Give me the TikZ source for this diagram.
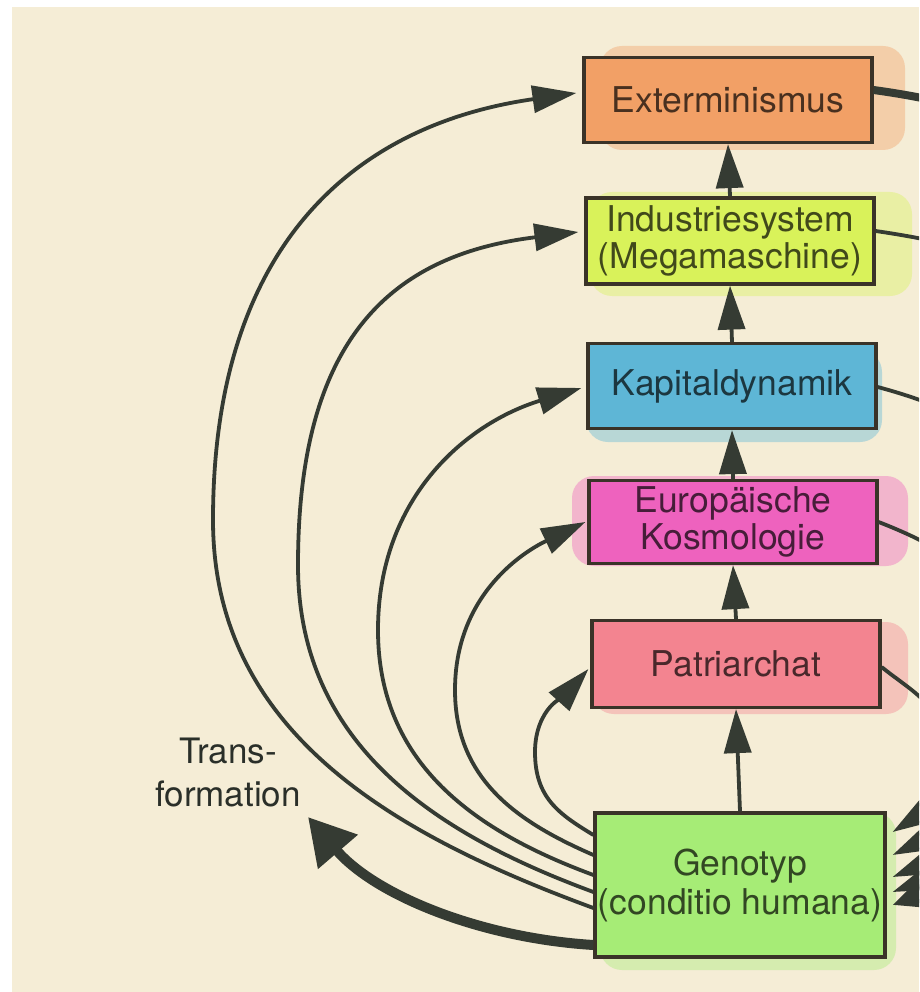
\documentclass[tikz,border=0pt]{standalone}
\usepackage{fontspec}
\setmainfont{TeX Gyre Heros}
\usetikzlibrary{arrows.meta,calc}
\definecolor{paper}{HTML}{F5EDD6}
\definecolor{ink}{HTML}{353B33}
\definecolor{cExt}{HTML}{F2A066}
\definecolor{cInd}{HTML}{D9F25A}
\definecolor{cKap}{HTML}{5EB6D6}
\definecolor{cEur}{HTML}{EE62BE}
\definecolor{cPat}{HTML}{F38490}
\definecolor{cGen}{HTML}{A6EC76}
\definecolor{boxline}{HTML}{3A3328}
\begin{document}
\begin{tikzpicture}[x=1pt,y=-1pt,
  box/.style={draw=boxline, line width=3.2pt, fill=#1, text=#1!30!black,
    minimum width=288pt, minimum height=85pt, align=center, inner sep=0pt,
    font=\fontsize{35.5}{37}\selectfont},
  conn/.style={draw=ink, line width=3.8pt, -{Triangle[length=44pt,width=27pt]}},
  thickconn/.style={draw=ink, line width=10pt, -{Triangle[length=46pt,width=50pt]}},
  blob/.style={fill=#1, fill opacity=0.4, draw=none, rounded corners=22pt}
]
\useasboundingbox (0,0) rectangle (919,992);
\clip (0,0) rectangle (919,992);
\fill[white] (0,0) rectangle (919,992);
\fill[paper] (12,7) rectangle (919,992);

% highlighter smears
\path[blob=cExt] (600,46) rectangle (905,150);
\path[blob=cInd] (590,192) rectangle (912,296);
\path[blob=cKap] (586,350) rectangle (882,442);
\path[blob=cEur] (572,476) rectangle (908,566);
\path[blob=cPat] (592,622) rectangle (908,714);
\path[blob=cGen] (600,812) rectangle (896,970);

% boxes
\node[box=cExt] (ext) at (728,100) {Exterminismus};
\node[box=cInd, minimum height=86pt] (ind) at (730,241) {Industriesystem\\(Megamaschine)};
\node[box=cKap] (kap) at (732,386) {Kapitaldynamik};
\node[box=cEur, minimum height=83pt] (eur) at (733,522) {Europäische\\Kosmologie};
\node[box=cPat, minimum height=87pt] (pat) at (736,664) {Patriarchat};
\node[box=cGen, minimum width=290pt, minimum height=144pt,
      font=\fontsize{35.5}{39}\selectfont] (gen) at (740,885) {Genotyp\\(conditio humana)};
\node[align=center, text=ink!80!black, font=\fontsize{35}{43}\selectfont] (trans) at (228,772) {Trans-\\formation};

% vertical chain
\draw[conn] (ind.north) -- (ext.south);
\draw[conn] (kap.north) -- (ind.south);
\draw[conn] (eur.north) -- (kap.south);
\draw[conn] (pat.north) -- (eur.south);
\draw[conn] (gen.north) -- (pat.south);

% ports on the left of Genotyp
\coordinate (s1) at ($(gen.west)+(0,-50)$);
\coordinate (s2) at ($(gen.west)+(0,-30)$);
\coordinate (s3) at ($(gen.west)+(0,-10)$);
\coordinate (s4) at ($(gen.west)+(0,7)$);
\coordinate (s5) at ($(gen.west)+(0,23)$);
\coordinate (s6) at ($(gen.west)+(0,60)$);
% targets on the left of the boxes
\coordinate (t1) at ($(pat.west)+(-2,5)$);
\coordinate (t2) at ($(eur.west)+(-2,0)$);
\coordinate (t3) at ($(kap.west)+(-5,2)$);
\coordinate (t4) at ($(ind.west)+(-6,-9)$);
\coordinate (t5) at ($(ext.west)+(-6,-7)$);
\coordinate (tr) at (308,817);

% left arcs
\draw[conn] (s1) .. controls (559,814) and (535,798) .. (535,752)
                 .. controls (535,708) and (566,694) .. (t1);
\draw[conn] (s2) .. controls (520,823) and (455,781) .. (455,690)
                 .. controls (455,598) and (519,554) .. (t2);
\draw[conn] (s3) .. controls (477,832) and (378,765) .. (378,630)
                 .. controls (378,497) and (467,423) .. (t3);
\draw[conn] (s4) .. controls (436,834) and (298,745) .. (298,565)
                 .. controls (298,340) and (390,255) .. (t4);
\draw[conn] (s5) .. controls (395,835) and (213,733) .. (213,520)
                 .. controls (213,255) and (345,126) .. (t5);
\draw[thickconn] (s6) .. controls (480,938) and (375,895) .. (tr);

% ports on the right
\coordinate (r1) at ($(pat.east)+(0,3)$);
\coordinate (r2) at ($(eur.east)+(0,0)$);
\coordinate (r3) at ($(kap.east)+(0,1)$);
\coordinate (r4) at ($(ind.east)+(0,-10)$);
\coordinate (r5) at ($(ext.east)+(0,-10)$);
\coordinate (g1) at ($(gen.east)+(6,-53)$);
\coordinate (g2) at ($(gen.east)+(6,-30)$);
\coordinate (g3) at ($(gen.east)+(6,-8)$);
\coordinate (g4) at ($(gen.east)+(6,7)$);
\coordinate (g5) at ($(gen.east)+(6,20)$);

% right arcs (mostly outside the picture)
\draw[conn] (r1) .. controls (911,691) and (945,706) .. (945,752)
                 .. controls (945,798) and (921,814) .. (g1);
\draw[conn] (r2) .. controls (961,554) and (1025,598) .. (1025,690)
                 .. controls (1025,781) and (960,823) .. (g2);
\draw[conn] (r3) .. controls (1013,423) and (1102,497) .. (1102,630)
                 .. controls (1102,765) and (1003,832) .. (g3);
\draw[conn] (r4) .. controls (1090,262) and (1182,340) .. (1182,565)
                 .. controls (1182,745) and (1044,834) .. (g4);
\draw[draw=ink, line width=8pt, -{Triangle[length=46pt,width=40pt]}]
      (r5) .. controls (1135,126) and (1267,255) .. (1267,520)
           .. controls (1267,733) and (1085,835) .. (g5);
\end{tikzpicture}
\end{document}
